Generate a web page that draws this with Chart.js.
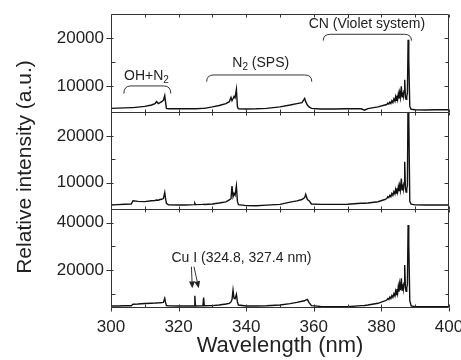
<!DOCTYPE html>
<html>
<head>
<meta charset="utf-8">
<script src="https://cdn.jsdelivr.net/npm/chart.js@4.4.1/dist/chart.umd.min.js"></script>
<style>
  html, body { margin: 0; padding: 0; background: #fff; }
  #wrap { width: 461px; height: 360px; position: relative; }
</style>
</head>
<body>
<div id="wrap"><canvas id="chart"></canvas></div>
<script>
// wavelength grid (nm), shared by the three spectra
const wavelength = [
  300, 302, 304, 306, 306.5, 308, 310, 312, 313, 313.5, 314, 314.5, 315, 315.5, 315.9, 316.1, 316.4, 317,
  320, 322, 324.6, 324.8, 325, 327.2, 327.4, 327.6, 330, 332, 334, 335, 335.5, 335.8, 336.1, 336.4, 336.7, 337.1, 337.4, 337.7,
  340, 343, 346, 350, 353, 355, 356.5, 357.3, 357.6, 358.1, 358.6, 359.3,
  362, 366, 370, 374, 375, 376,
  379, 381,
  381.6, 381.9, 382.2, 382.5, 382.8, 383.1, 383.4, 383.7,
  384.0, 384.2, 384.4, 384.6, 384.8,
  385.0, 385.2, 385.4, 385.6, 385.9,
  386.1, 386.3, 386.5, 386.7, 386.9,
  387.1, 387.3, 387.5, 387.7, 387.9,
  388.1, 388.4, 388.8,
  390, 393, 396, 400
];

// top panel
const spectrumTop = [
  5300, 5350, 5400, 5450, 5450, 5550, 5700, 6000, 6300, 6700, 6300, 6500, 6700, 7000, 8000, 6800, 5300, 5200,
  5200, 5200, 5200, 5200, 5200, 5300, 5300, 5300, 5600, 5900, 6300, 6700, 7600, 6900, 7300, 7800, 7500, 9300, 5600, 5200,
  5150, 5200, 5300, 5600, 6000, 6300, 6500, 7400, 6700, 6000, 5600, 5300,
  5150, 5150, 5200, 5200, 4900, 5250,
  5600, 6000,
  6100, 6400, 6200, 6600, 6300, 6900, 6500, 7300,
  6800, 7700, 7000, 8000, 7200,
  8300, 7400, 8600, 7600, 9900,
  7700, 8700, 7800, 9000, 11300,
  7600, 7200, 7800, 8600, 19700,
  15500, 5700, 5100,
  5000, 4950, 5000, 5000
];

// middle panel
const spectrumMiddle = [
  5230, 5300, 5400, 5450, 6150, 6000, 5950, 6150, 6200, 6300, 6250, 6400, 6450, 6600, 7900, 6800, 5600, 5250,
  5230, 5230, 5300, 5600, 5300, 5350, 5400, 5350, 5450, 5650, 5900, 6300, 6600, 9300, 7000, 7700, 7300, 9300, 6000, 5300,
  5100, 5080, 5200, 5370, 5850, 6100, 6400, 6800, 7500, 6400, 6150, 5440,
  5370, 5370, 5400, 5590, 5600, 5650,
  5930, 6400,
  6600, 7000, 6800, 7300, 7000, 7700, 7300, 8100,
  7600, 8500, 7800, 8800, 8000,
  9100, 8200, 9400, 8400, 10900,
  8500, 9600, 8600, 10000, 14500,
  8700, 8000, 8700, 9500, 30000,
  24000, 6000, 5400,
  5250, 5230, 5230, 5230
];

// bottom panel (Cu I lines at 324.8 and 327.4 nm)
const spectrumBottom = [
  4780, 4800, 4850, 4900, 5500, 5600, 5800, 5950, 6000, 6050, 6100, 6150, 6200, 6300, 8000, 6500, 4950, 4850,
  4780, 4780, 4800, 9100, 4800, 4850, 8300, 4850, 4950, 5200, 5600, 5900, 6500, 7500, 11500, 8000, 7800, 9700, 6500, 5200,
  4780, 4780, 4850, 5200, 5800, 6300, 6800, 7000, 7300, 7600, 6200, 4910,
  4600, 4480, 4480, 4910, 5000, 5200,
  5910, 6900,
  7300, 7900, 7500, 8600, 7900, 9200, 8400, 10000,
  9000, 11000, 9600, 12000, 10200,
  13000, 10800, 14000, 11500, 16500,
  11500, 14000, 11800, 14500, 22100,
  12500, 11000, 12500, 14000, 39000,
  31000, 7000, 4800,
  4500, 4480, 4480, 4500
];

const xTicks = [300, 320, 340, 360, 380, 400];
const xMinorTicks = [310, 330, 350, 370, 390];
const topTicks = [10000, 20000];
const topMinorTicks = [15000, 25000];
const middleTicks = [10000, 20000];
const middleMinorTicks = [15000, 25000];
const bottomTicks = [20000, 40000];
const bottomMinorTicks = [10000, 30000];

const FONT = "'Liberation Sans', Arial, Helvetica, sans-serif";
const INK = '#222';
Chart.defaults.font.family = FONT;
Chart.defaults.color = INK;

function toPoints(ys) {
  return wavelength.map((x, i) => ({ x: x, y: ys[i] }));
}

function yAxis(min, max, ticks) {
  return {
    type: 'linear',
    position: 'left',
    stack: 'panels',
    stackWeight: 1,
    min: min,
    max: max,
    afterBuildTicks: s => { s.ticks = ticks.map(v => ({ value: v })); },
    afterFit: s => { s.width = 61; },
    grid: { display: false, drawTicks: false },
    border: { display: false },
    ticks: { padding: 7, color: INK, font: { size: 17, lineHeight: 0.8 }, callback: v => String(v) }
  };
}

function line(label, ys, axis) {
  return {
    label: label,
    data: toPoints(ys),
    yAxisID: axis,
    borderColor: '#111',
    borderWidth: 1.4,
    pointRadius: 0,
    tension: 0
  };
}

const panels = [
  { id: 'yTop', major: topTicks, minor: topMinorTicks },
  { id: 'yMiddle', major: middleTicks, minor: middleMinorTicks },
  { id: 'yBottom', major: bottomTicks, minor: bottomMinorTicks }
];

// text with a subscript "2" after the first part
function subText(ctx, before, after, cx, y, size) {
  const big = size + 'px ' + FONT;
  const small = Math.round(size * 0.7) + 'px ' + FONT;
  ctx.font = big;
  const w1 = ctx.measureText(before).width;
  const w3 = ctx.measureText(after).width;
  ctx.font = small;
  const w2 = ctx.measureText('2').width;
  const x = cx - (w1 + w2 + w3) / 2;
  ctx.textAlign = 'left';
  ctx.font = big;
  ctx.fillText(before, x, y);
  ctx.font = small;
  ctx.fillText('2', x + w1, y + 3);
  ctx.font = big;
  ctx.fillText(after, x + w1 + w2, y);
}

function bracket(ctx, x1, x2, yTop, yEnd) {
  const r = 7;
  ctx.beginPath();
  ctx.moveTo(x1, yEnd);
  ctx.quadraticCurveTo(x1, yTop, x1 + r, yTop);
  ctx.lineTo(x2 - r, yTop);
  ctx.quadraticCurveTo(x2, yTop, x2, yEnd);
  ctx.stroke();
}

function arrow(ctx, x1, y1, x2, y2) {
  const ang = Math.atan2(y2 - y1, x2 - x1);
  const len = 7, half = 3;
  const bx = x2 - len * Math.cos(ang), by = y2 - len * Math.sin(ang);
  ctx.beginPath();
  ctx.moveTo(x1, y1);
  ctx.lineTo(bx, by);
  ctx.stroke();
  ctx.beginPath();
  ctx.moveTo(x2, y2);
  ctx.lineTo(bx + half * Math.sin(ang), by - half * Math.cos(ang));
  ctx.lineTo(bx - half * Math.sin(ang), by + half * Math.cos(ang));
  ctx.closePath();
  ctx.fill();
}

const panelPlugin = {
  id: 'panelPlugin',
  beforeDatasetDraw(chart, args) {
    // keep each spectrum inside its own panel
    const s = chart.scales[args.meta.yAxisID];
    const a = chart.chartArea;
    chart.ctx.save();
    chart.ctx.beginPath();
    chart.ctx.rect(a.left, s.top, a.right - a.left, s.bottom - s.top);
    chart.ctx.clip();
  },
  afterDatasetDraw(chart) {
    chart.ctx.restore();
  },
  afterDatasetsDraw(chart) {
    const ctx = chart.ctx;
    const a = chart.chartArea;
    const x = chart.scales.x;
    const L = Math.round(a.left) + 0.5, R = Math.round(a.right) - 0.5;
    ctx.save();
    ctx.strokeStyle = '#333';
    ctx.lineWidth = 1;
    panels.forEach((p, idx) => {
      const s = chart.scales[p.id];
      const T = Math.round(s.top) + 0.5, B = Math.round(s.bottom) + 0.5;
      ctx.beginPath();
      ctx.rect(L, T, R - L, B - T);
      p.major.forEach(v => {
        const py = Math.round(s.getPixelForValue(v)) + 0.5;
        ctx.moveTo(L - 5, py); ctx.lineTo(L + 2, py);
        ctx.moveTo(R - 4, py); ctx.lineTo(R, py);
      });
      p.minor.forEach(v => {
        const py = Math.round(s.getPixelForValue(v)) + 0.5;
        if (py <= T + 1) return;
        ctx.moveTo(L, py); ctx.lineTo(L + 4, py);
        ctx.moveTo(R - 3, py); ctx.lineTo(R, py);
      });
      const last = idx === panels.length - 1;
      xTicks.concat(xMinorTicks).forEach(v => {
        const px = Math.round(x.getPixelForValue(v)) + 0.5;
        ctx.moveTo(px, T); ctx.lineTo(px, T + 3);
        ctx.moveTo(px, B); ctx.lineTo(px, B - 3);
        if (last && xTicks.includes(v)) { ctx.moveTo(px, B); ctx.lineTo(px, B + 4); }
      });
      ctx.stroke();
    });
    ctx.restore();
  },
  afterDraw(chart) {
    const ctx = chart.ctx;
    const x = chart.scales.x;
    const yT = chart.scales.yTop;
    const yB = chart.scales.yBottom;
    const X = v => x.getPixelForValue(v);
    ctx.save();
    ctx.fillStyle = INK;
    ctx.strokeStyle = '#333';
    ctx.lineWidth = 1;
    ctx.textBaseline = 'alphabetic';

    // OH+N2
    bracket(ctx, X(303.8), X(317.7), yT.getPixelForValue(10000), yT.getPixelForValue(8400));
    subText(ctx, 'OH+N', '', X(310.5), yT.getPixelForValue(11300), 14);
    // N2 (SPS)
    bracket(ctx, X(328.3), X(359.4), yT.getPixelForValue(12300), yT.getPixelForValue(10900));
    subText(ctx, 'N', ' (SPS)', X(344.3), yT.getPixelForValue(14050), 14);
    // CN (Violet system)
    bracket(ctx, X(362.8), X(388.9), yT.getPixelForValue(20840), yT.getPixelForValue(19500));
    ctx.font = '14px ' + FONT;
    ctx.textAlign = 'center';
    ctx.fillText('CN (Violet system)', X(375.7), yT.getPixelForValue(22090));

    // Cu I lines
    ctx.fillText('Cu I (324.8, 327.4 nm)', X(338.6), yB.getPixelForValue(23500));
    arrow(ctx, X(323.8), yB.getPixelForValue(21400), X(324.05), yB.getPixelForValue(12260));
    arrow(ctx, X(324.55), yB.getPixelForValue(21400), X(325.95), yB.getPixelForValue(12260));

    // shared y title
    ctx.translate(25, 167);
    ctx.rotate(-Math.PI / 2);
    ctx.font = '21px ' + FONT;
    ctx.textAlign = 'center';
    ctx.textBaseline = 'middle';
    ctx.fillText('Relative intensity (a.u.)', 0, 0);
    ctx.restore();
  }
};

new Chart(document.getElementById('chart'), {
  type: 'line',
  data: {
    datasets: [
      line('Top', spectrumTop, 'yTop'),
      line('Middle', spectrumMiddle, 'yMiddle'),
      line('Bottom', spectrumBottom, 'yBottom')
    ]
  },
  options: {
    responsive: true,
    maintainAspectRatio: false,
    animation: false,
    layout: { padding: { left: 50, right: 12, top: 14, bottom: 0 } },
    plugins: { legend: { display: false }, tooltip: { enabled: false } },
    scales: {
      x: {
        type: 'linear',
        min: 300,
        max: 400,
        afterBuildTicks: s => { s.ticks = xTicks.map(v => ({ value: v })); },
        afterFit: s => { s.height = 53; s.paddingRight = 0; s.paddingLeft = 0; },
        grid: { display: false, drawTicks: false },
        border: { display: false },
        ticks: { padding: 14, color: INK, font: { size: 17, lineHeight: 0.8 }, maxRotation: 0 },
        title: {
          display: true,
          text: 'Wavelength (nm)',
          color: INK,
          font: { size: 22, lineHeight: 0.8 },
          padding: { top: 0, bottom: 5 }
        }
      },
      yBottom: yAxis(4350, 45670, bottomTicks),
      yMiddle: yAxis(4300, 25200, middleTicks),
      yTop: yAxis(4600, 25100, topTicks)
    }
  },
  plugins: [panelPlugin]
});
</script>
</body>
</html>
